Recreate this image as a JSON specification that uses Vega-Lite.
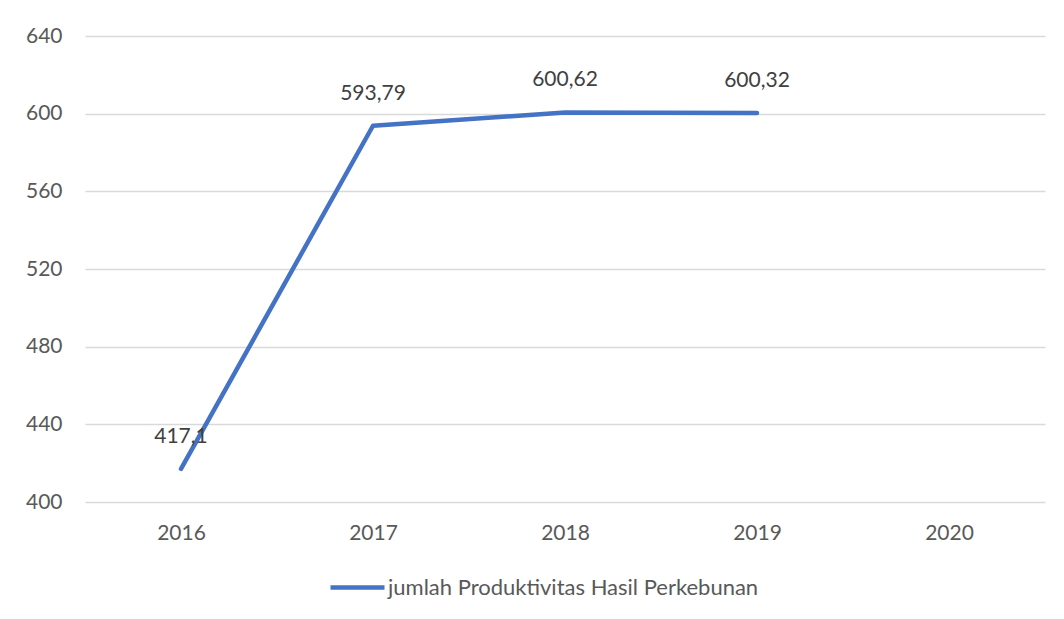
{
  "$schema": "https://vega.github.io/schema/vega-lite/v6.json",
  "width": 960,
  "height": 466,
  "autosize": {"type": "none"},
  "padding": {"left": 85, "top": 36, "right": 19, "bottom": 117},
  "background": "white",
  "config": {
    "font": "Lato",
    "view": {"stroke": null},
    "locale": {"number": {"decimal": ",", "thousands": ".", "grouping": [3], "currency": ["Rp", ""]}}
  },
  "data": {
    "values": [
      {"tahun": "2016", "nilai": 417.1, "seri": "jumlah Produktivitas Hasil Perkebunan"},
      {"tahun": "2017", "nilai": 593.79, "seri": "jumlah Produktivitas Hasil Perkebunan"},
      {"tahun": "2018", "nilai": 600.62, "seri": "jumlah Produktivitas Hasil Perkebunan"},
      {"tahun": "2019", "nilai": 600.32, "seri": "jumlah Produktivitas Hasil Perkebunan"}
    ]
  },
  "encoding": {
    "x": {
      "field": "tahun",
      "type": "ordinal",
      "scale": {"type": "point", "padding": 0.5, "domain": ["2016", "2017", "2018", "2019", "2020"]},
      "axis": {
        "title": null,
        "domain": false,
        "ticks": false,
        "grid": false,
        "labelAngle": 0,
        "labelFontSize": 21,
        "labelColor": "#595959",
        "labelPadding": 20
      }
    },
    "y": {
      "field": "nilai",
      "type": "quantitative",
      "scale": {"domain": [400, 640], "nice": false, "zero": false},
      "axis": {
        "title": null,
        "domain": false,
        "ticks": false,
        "values": [400, 440, 480, 520, 560, 600, 640],
        "gridColor": "#d9d9d9",
        "gridWidth": 1.3,
        "labelFontSize": 21,
        "labelColor": "#595959",
        "labelPadding": 23
      }
    }
  },
  "layer": [
    {
      "mark": {"type": "line", "strokeWidth": 4.5, "strokeCap": "round", "strokeJoin": "round"},
      "encoding": {
        "color": {
          "field": "seri",
          "type": "nominal",
          "scale": {"range": ["#4472C4"]},
          "legend": {
            "title": null,
            "orient": "none",
            "legendX": 243,
            "legendY": 522,
            "padding": 0,
            "symbolType": "stroke",
            "symbolSize": 2916,
            "symbolStrokeWidth": 4.5,
            "labelFontSize": 22,
            "labelColor": "#595959",
            "labelOffset": 1,
            "labelLimit": 600
          }
        }
      }
    },
    {
      "mark": {"type": "text", "dy": -32, "fontSize": 21, "color": "#404040", "baseline": "middle"},
      "encoding": {
        "text": {"field": "nilai", "type": "quantitative", "format": ".2~f"}
      }
    }
  ]
}
